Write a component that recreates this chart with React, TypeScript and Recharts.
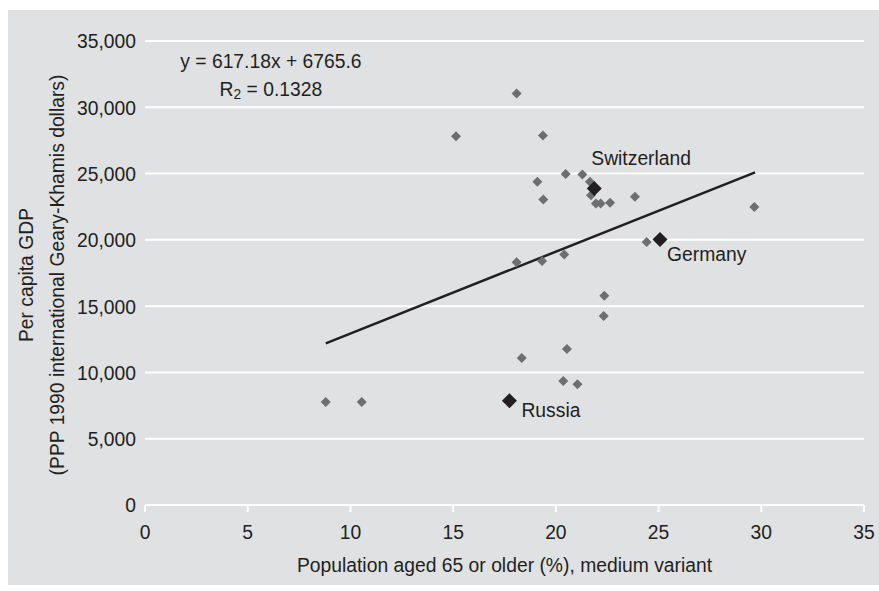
import React from 'react';
import {
  ScatterChart,
  Scatter,
  XAxis,
  YAxis,
  CartesianGrid,
  ReferenceLine,
  ReferenceDot,
  Label,
  LabelList,
} from 'recharts';

// ---- data ----
const ageX = [
  8.8, 10.55, 15.14, 18.09, 19.37, 19.1, 19.39, 20.48, 21.29, 21.66, 21.71, 21.95, 22.18,
  22.64, 23.85, 29.66, 24.42, 20.41, 19.33, 18.09, 22.36, 22.33, 20.54, 18.34, 20.36, 21.05,
];
const gdpY = [
  7770, 7770, 27820, 31040, 27870, 24380, 23050, 24960, 24930, 24380, 23370, 22750, 22750,
  22790, 23250, 22470, 19830, 18900, 18400, 18320, 15780, 14250, 11760, 11080, 9350, 9100,
];
const highlightNames = ['Switzerland', 'Germany', 'Russia'];
const highlightX = [21.87, 25.07, 17.74];
const highlightY = [23880, 20030, 7860];

const xTicks = [0, 5, 10, 15, 20, 25, 30, 35];
const yTicks = [0, 5000, 10000, 15000, 20000, 25000, 30000, 35000];

const slope = 617.18;
const intercept = 6765.6;
const trendX = [8.8, 29.7];
const rSquared = '0.1328';

const xTitle = 'Population aged 65 or older (%), medium variant';
const yTitle1 = 'Per capita GDP';
const yTitle2 = '(PPP 1990 international Geary-Khamis dollars)';

// ---- styles ----
const FONT = "'Liberation Sans', Arial, sans-serif";
const TEXT = '#231f20';
const BG = '#e0e1e3';
const GRAY = '#6d6e70';
const FS = 21;
const NARROW = 0.92;

const labelOffsets: Record<string, { dx: number; dy: number }> = {
  Switzerland: { dx: -3, dy: -31 },
  Germany: { dx: 7, dy: 14 },
  Russia: { dx: 12, dy: 9 },
};

const points = ageX.map((x, i) => ({ x, y: gdpY[i] }));
const highlights = highlightNames.map((name, i) => ({ name, x: highlightX[i], y: highlightY[i] }));
const trendSegment = trendX.map((x) => ({ x, y: slope * x + intercept }));

type NTextProps = {
  x: number;
  y: number;
  anchor?: 'start' | 'middle' | 'end';
  baseline?: string;
  dy?: string | number;
  rotate?: boolean;
  children?: React.ReactNode;
};

const NText = ({ x, y, anchor = 'start', baseline, dy, rotate, children }: NTextProps) => (
  <g transform={`translate(${x},${y})${rotate ? ' rotate(-90)' : ''} scale(${NARROW},1)`}>
    <text
      x={0}
      y={0}
      dy={dy}
      textAnchor={anchor}
      dominantBaseline={baseline}
      fill={TEXT}
      fontFamily={FONT}
      fontSize={FS}
    >
      {children}
    </text>
  </g>
);

const diamond = (r: number, fill: string) => (props: any) => {
  const { cx, cy } = props;
  if (cx == null || cy == null) return <g />;
  return (
    <path
      d={`M${cx},${cy - r} L${cx + r},${cy} L${cx},${cy + r} L${cx - r},${cy} Z`}
      fill={fill}
    />
  );
};

const XTick = (props: any) => {
  const { x, y, payload } = props;
  return (
    <NText x={x} y={y} anchor="middle" dy="0.71em">
      {String(payload.value)}
    </NText>
  );
};

const YTick = (props: any) => {
  const { x, y, payload } = props;
  return (
    <NText x={x} y={y} anchor="end" dy="0.355em">
      {Number(payload.value).toLocaleString('en-US')}
    </NText>
  );
};

const renderHighlightLabel = (props: any) => {
  const { x, y, width, height, value } = props;
  const cx = x + (width || 0) / 2;
  const cy = y + (height || 0) / 2;
  const off = labelOffsets[value] || { dx: 0, dy: 0 };
  return (
    <NText x={cx + off.dx} y={cy + off.dy} anchor="start" baseline="central">
      {value}
    </NText>
  );
};

const renderXTitle = (props: any) => {
  const vb = props.viewBox || { x: 0, y: 0, width: 0, height: 0 };
  return (
    <NText x={vb.x + vb.width / 2} y={vb.y + vb.height - 13} anchor="middle">
      {xTitle}
    </NText>
  );
};

const renderYTitle = (props: any) => {
  const vb = props.viewBox || { x: 0, y: 0, width: 0, height: 0 };
  const cy = vb.y + vb.height / 2 + 2;
  return (
    <g>
      <NText x={vb.x + 18} y={cy} anchor="middle" baseline="central" rotate>
        {yTitle1}
      </NText>
      <NText x={vb.x + 49} y={cy} anchor="middle" baseline="central" rotate>
        {yTitle2}
      </NText>
    </g>
  );
};

const renderEquation = (props: any) => {
  const vb = props.viewBox || { x: 0, y: 0, width: 0, height: 0 };
  const cx = vb.x + (vb.width || 0) / 2;
  const cy = vb.y + (vb.height || 0) / 2;
  return (
    <g>
      <NText x={cx} y={cy} anchor="middle" baseline="central">
        {`y = ${slope}x + ${intercept}`}
      </NText>
      <NText x={cx} y={cy + 28} anchor="middle" baseline="central">
        <tspan>R</tspan>
        <tspan dy={5} fontSize={15}>2</tspan>
        <tspan dy={-5}>{` = ${rSquared}`}</tspan>
      </NText>
    </g>
  );
};

export default function App() {
  return (
    <div style={{ paddingTop: 2 }}>
      <style>{'html{overflow:hidden} body{margin:8px 0 0 8px}'}</style>
      <div style={{ width: 871, height: 575, background: BG }}>
        <ScatterChart
          width={871}
          height={575}
          margin={{ top: 31, right: 15, bottom: 0, left: 0 }}
          style={{ overflow: 'visible' }}
        >
          <CartesianGrid vertical={false} stroke="#ffffff" strokeWidth={2} />
          <XAxis
            type="number"
            dataKey="x"
            domain={[0, 35]}
            ticks={xTicks}
            interval={0}
            height={80}
            axisLine={{ stroke: '#ffffff', strokeWidth: 2 }}
            tickLine={{ stroke: '#ffffff', strokeWidth: 2 }}
            tickSize={7}
            tickMargin={12}
            tick={XTick}
          >
            <Label content={renderXTitle} />
          </XAxis>
          <YAxis
            type="number"
            dataKey="y"
            domain={[0, 35000]}
            ticks={yTicks}
            interval={0}
            width={137}
            axisLine={false}
            tickLine={false}
            tickSize={0}
            tickMargin={9}
            tick={YTick}
          >
            <Label content={renderYTitle} />
          </YAxis>
          <ReferenceLine
            segment={trendSegment}
            stroke={TEXT}
            strokeWidth={2.5}
            ifOverflow="visible"
          />
          <Scatter data={points} shape={diamond(5, GRAY)} isAnimationActive={false} />
          <Scatter data={highlights} shape={diamond(7.5, TEXT)} isAnimationActive={false}>
            <LabelList dataKey="name" content={renderHighlightLabel} />
          </Scatter>
          <ReferenceDot x={6.13} y={33480} r={0} ifOverflow="visible">
            <Label content={renderEquation} />
          </ReferenceDot>
        </ScatterChart>
      </div>
    </div>
  );
}
